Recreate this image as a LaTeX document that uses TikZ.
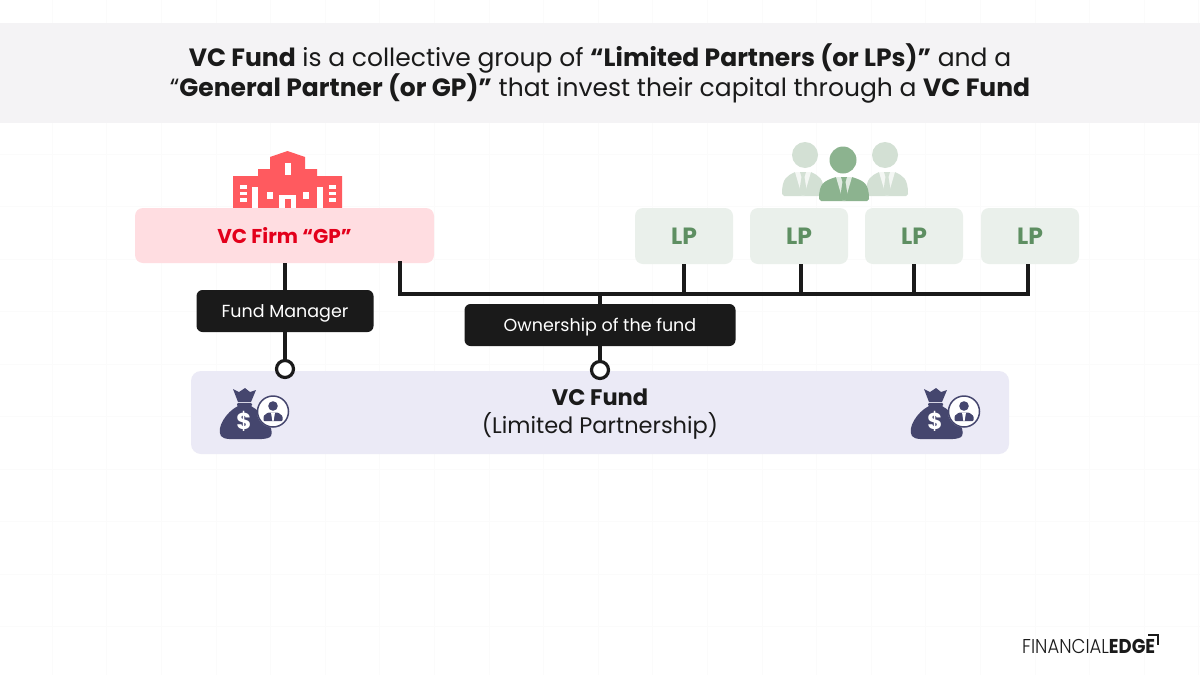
\documentclass[tikz,border=0pt]{standalone}
\usepackage{fontspec}
\setmainfont{Poppins}
\newfontfamily\logofont{Poppins Light}
\usetikzlibrary{positioning}
\definecolor{bandgray}{HTML}{F4F3F5}
\definecolor{firmpink}{HTML}{FFDDE1}
\definecolor{firmred}{HTML}{E3001B}
\definecolor{iconred}{HTML}{FF5A5F}
\definecolor{lpgreen}{HTML}{EAF0EB}
\definecolor{lptext}{HTML}{5E8F62}
\definecolor{backgreen}{HTML}{D3E0D4}
\definecolor{frontgreen}{HTML}{8CB38F}
\definecolor{fundlilac}{HTML}{EBEAF6}
\definecolor{bagblue}{HTML}{45466E}
\definecolor{boxblack}{HTML}{1A1A1A}
\tikzset{
  x=1pt,y=-1pt,
  firmbox/.style={fill=firmpink,rounded corners=8pt,minimum width=299pt,minimum height=55pt,font=\fontsize{20}{24}\selectfont\bfseries,text=firmred},
  lpbox/.style={fill=lpgreen,rounded corners=8pt,minimum width=98pt,minimum height=56pt,font=\fontsize{23.5}{28}\selectfont\bfseries,text=lptext},
  blackbox/.style={fill=boxblack,rounded corners=6pt,minimum height=42pt,font=\fontsize{17.5}{21}\selectfont,text=white},
  fundbox/.style={fill=fundlilac,rounded corners=10pt,minimum width=818pt,minimum height=83pt},
  ring/.style={circle,draw=boxblack,line width=3.2pt,fill=white,minimum size=17pt,inner sep=0pt},
  link/.style={draw=boxblack,line width=3.2pt},
  gridline/.style={draw=black!1.5,line width=0.5pt}
}
% one person, #1 = x of middle, #2 = y of shoulders, #3 = half width, #4 = y of foot, #5 = colour
\newcommand{\personbody}[5]{%
  \fill[#5] (#1-#3,#4-2) .. controls (#1-#3,#2+6) and (#1-#3+5,#2+4) .. (#1-8,#2) -- (#1+8,#2) .. controls (#1+#3-5,#2+4) and (#1+#3,#2+6) .. (#1+#3,#4-2) -- (#1+#3-2,#4) -- (#1-#3+2,#4) -- cycle;
  \fill[white!75!#5] (#1-8,#2) -- (#1+8,#2) -- (#1+1,#4) -- (#1-1,#4) -- cycle;
  \fill[#5] (#1-3,#2) -- (#1+3,#2) -- (#1+1.5,#2+5) -- (#1+4,#4-3) -- (#1,#4) -- (#1-4,#4-3) -- (#1-1.5,#2+5) -- cycle;
}
\newcommand{\moneybag}[1]{%
  \begin{scope}[shift={(#1,0)}]
    \fill[bagblue] (233,389) -- (239,392) -- (245,388) -- (250,392) -- (256,390) -- (251,402) -- (238,402) -- cycle;
    \fill[bagblue,rounded corners=1pt] (237,403) -- (252,403) -- (252,406) -- (237,406) -- cycle;
    \fill[bagblue] (238,406) .. controls (226,412) and (216,428) .. (221,436) .. controls (224,440) and (232,439) .. (245,439) .. controls (258,439) and (268,440) .. (271,436) .. controls (275,428) and (262,412) .. (251,406) -- cycle;
    \node[text=white,font=\fontsize{23}{23}\selectfont\bfseries] (dollar#1) at (244,421) {\$};
    \fill[white] (273,411.5) circle (16);
    \draw[bagblue,line width=1.5pt] (273,411.5) circle (15.5);
    \fill[bagblue] (273,406) circle (4.8);
    \fill[bagblue,rounded corners=1pt] (263.5,421) -- (263.5,416) -- (268,412.5) -- (278,412.5) -- (282.5,416) -- (282.5,421) -- cycle;
    \fill[white] (271,412.5) -- (275,412.5) -- (273.6,421) -- (272.4,421) -- cycle;
  \end{scope}
}
\begin{document}
\begin{tikzpicture}
\useasboundingbox (0,0) rectangle (1200,675);
\fill[white] (0,0) rectangle (1200,675);
% faint grid
\foreach \gx in {0,...,21}
  \draw[gridline] (52+54.6*\gx,0) -- (52+54.6*\gx,675);
\foreach \gy in {0,...,12}
  \draw[gridline] (0,49+52.5*\gy) -- (1200,49+52.5*\gy);
% title
\fill[bandgray] (0,23) rectangle (1200,123);
\node[align=center,text=boxblack,font=\fontsize{25}{30}\selectfont] (title) at (600,73) {\textbf{VC Fund} is a collective group of \textbf{“Limited Partners (or LPs)”} and a\\“\textbf{General Partner (or GP)”} that invest their capital through a \textbf{VC Fund}};
% building
\fill[iconred] (233,176) -- (258,176) -- (258,169) -- (270,169) -- (270,157) -- (287.5,151) -- (305,157) -- (305,169) -- (317,169) -- (317,176) -- (342,176) -- (342,208) -- (233,208) -- cycle;
\fill[white] (285,163) rectangle (291,175);
\fill[white] (252,187) rectangle (258,208);
\fill[white] (317,187) rectangle (323,208);
\fill[white] (267,192) rectangle (273,199);
\fill[white] (303,192) rectangle (309,199);
\fill[white] (279,195) rectangle (296,208);
\fill[iconred] (285,199) rectangle (291,208);
\foreach \wy in {187,193.5,200} {
  \fill[white] (240,\wy-1.7) rectangle (247,\wy+1.7);
  \fill[white] (329,\wy-1.7) rectangle (336,\wy+1.7);
}
% people
\fill[backgreen] (805,155) circle (13);
\fill[backgreen] (885,155) circle (13);
\personbody{803}{172}{21}{196}{backgreen}
\personbody{887}{172}{21}{196}{backgreen}
\fill[white] (843,160) circle (15);
\fill[frontgreen] (843,160) circle (13.5);
\personbody{844}{177}{25}{201}{frontgreen}
% boxes
\node[firmbox] (firm) at (284.5,235.5) {VC Firm “GP”};
\node[lpbox] (lp1) at (684,236) {LP};
\node[lpbox] (lp2) at (799,236) {LP};
\node[lpbox] (lp3) at (914,236) {LP};
\node[lpbox] (lp4) at (1030,236) {LP};
\node[blackbox,minimum width=177pt] (manager) at (285,311) {\raisebox{-6pt}[0pt][0pt]{Fund Manager}};
\node[blackbox,minimum width=271pt] (ownership) at (600,325) {\raisebox{-6pt}[0pt][0pt]{Ownership of the fund}};
\node[fundbox] (fund) at (600,412.5) {};
\node[align=center,text=boxblack,font=\fontsize{22.5}{28}\selectfont] (fundtext) at (600,414) {\textbf{VC Fund}\\(Limited Partnership)};
\node[ring] (ringa) at (285,369) {};
\node[ring] (ringb) at (600,370) {};
% lines
\coordinate (busl) at (400,294);
\coordinate (busr) at (1028,294);
\coordinate (firmout) at (400,263);
\coordinate (busm) at (600,294);
\coordinate (lptwo) at (801,264);
\coordinate (lpfour) at (1028,264);
\draw[link] (firm.south -| manager.north) -- (manager.north);
\draw[link] (manager.south) -- (ringa.north);
\draw[link] (ownership.south) -- (ringb.north);
\draw[link,line cap=rect] (firmout) -- (busl) -- (busr);
\draw[link] (busm) -- (ownership.north);
\draw[link] (lp1.south) -- (lp1.south |- busl);
\draw[link] (lptwo) -- (lptwo |- busl);
\draw[link] (lp3.south) -- (lp3.south |- busl);
\draw[link] (busr) -- (lpfour);
% bags
\moneybag{0}
\moneybag{691}
% logo
\node[anchor=west,inner sep=0pt,text=boxblack,font=\fontsize{20}{20}\selectfont] (logo) at (1022,646) {\scalebox{0.9}[1]{{\logofont FINANCIAL}\textbf{EDGE}}};
\coordinate (corna) at (1148,635);
\coordinate (cornb) at (1158,635);
\coordinate (cornc) at (1158,645);
\draw[line width=1.8pt,boxblack] (corna) -- (cornb) -- (cornc);
\end{tikzpicture}
\end{document}
